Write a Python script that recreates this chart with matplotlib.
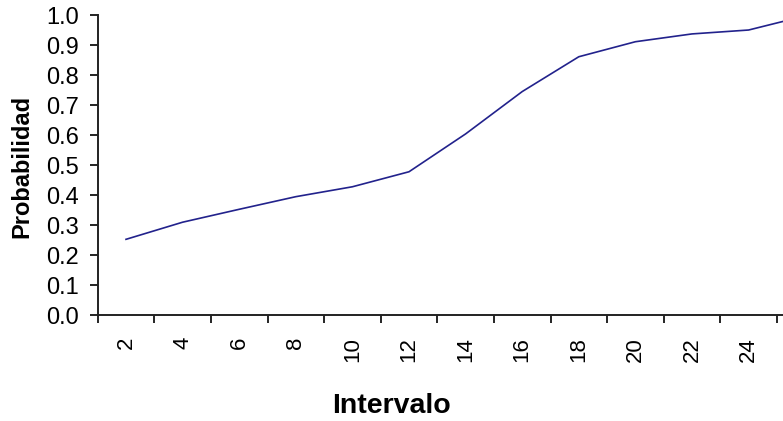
import matplotlib
matplotlib.use("Agg")
import matplotlib.pyplot as plt
import numpy as np

plt.rcParams['font.family'] = ['Liberation Sans', 'DejaVu Sans']

intervals = [2, 4, 6, 8, 10, 12, 14, 16, 18, 20, 22, 24, 26]
probabilidad = [0.253, 0.310, 0.353, 0.395, 0.428, 0.478, 0.604, 0.745,
                0.861, 0.911, 0.937, 0.950, 0.997]
y_ticks = [0.0, 0.1, 0.2, 0.3, 0.4, 0.5, 0.6, 0.7, 0.8, 0.9, 1.0]

W, H = 783, 421
fig = plt.figure(figsize=(W / 100, H / 100), dpi=100)

left_px = 97.7
cat_w = 56.6
right_px = left_px + cat_w * len(intervals)
y0_px, y1_px = 315.3, 15.0
ax = fig.add_axes([left_px / W, (H - y0_px) / H,
                   (right_px - left_px) / W, (y0_px - y1_px) / H])

pos = np.arange(len(intervals))
ax.plot(pos, probabilidad, color='#22228c', linewidth=1.2,
        solid_joinstyle='round', clip_on=False)

ax.set_xlim(-0.5, len(intervals) - 0.5)
ax.set_ylim(0, 1.0)

ax.set_yticks(y_ticks)
ax.set_yticklabels([f"{v:.1f}" for v in y_ticks], fontsize=17)

# the last category sits beyond the visible (cropped) right edge
visible = [left_px + (i + 0.5) * cat_w < W for i in pos]
ax.set_xticks(np.arange(len(intervals) + 1) - 0.5)
ax.set_xticklabels([])
ax.set_xticks(pos, minor=True)
ax.set_xticklabels([str(v) if vis else '' for v, vis in zip(intervals, visible)],
                   minor=True, rotation=90, fontsize=16)
ax.tick_params(axis='x', which='minor', length=0, pad=15.5)
ax.tick_params(axis='x', which='major', length=6, width=1.2, direction='out')
ax.tick_params(axis='y', length=6, width=1.2, direction='out', pad=7.5)

for s in ['top', 'right']:
    ax.spines[s].set_visible(False)
for s in ['left', 'bottom']:
    ax.spines[s].set_linewidth(1.4)
    ax.spines[s].set_color('#222222')

fig.text(21.7 / W, (H - 166) / H, 'Probabilidad', rotation=90,
         ha='center', va='center', fontsize=17, fontweight='bold')
fig.text(391.7 / W, (H - 413) / H, 'Intervalo', ha='center',
         va='baseline', fontsize=20.5, fontweight='bold')

fig.savefig('out.png', dpi=100)
